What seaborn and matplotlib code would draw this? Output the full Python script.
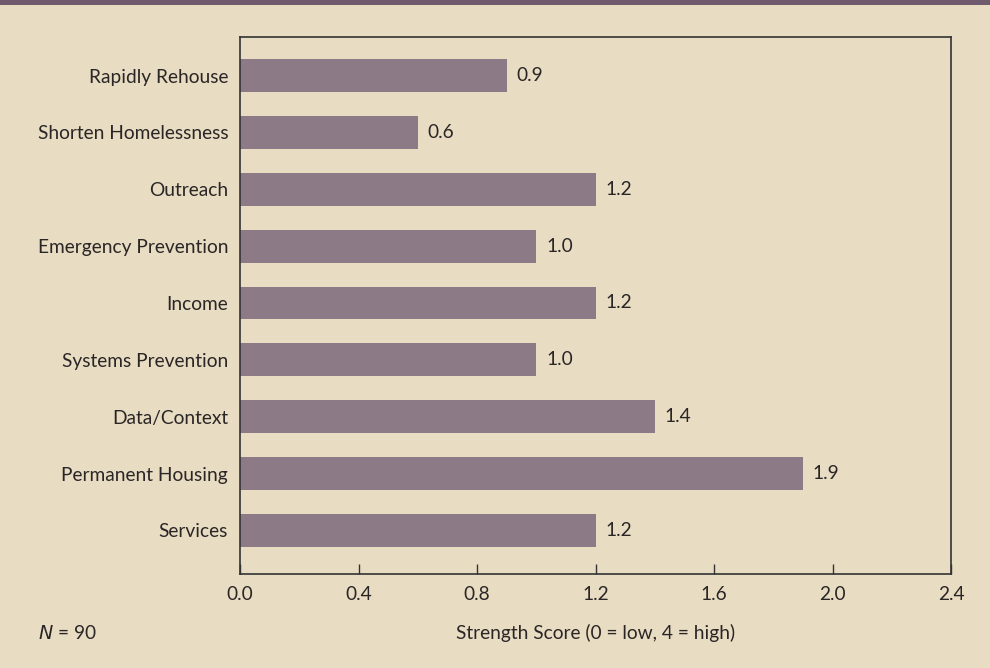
import matplotlib
matplotlib.use("Agg")
import matplotlib.pyplot as plt
import seaborn as sns
import pandas as pd
from matplotlib.patches import Rectangle

categories = ["Rapidly Rehouse", "Shorten Homelessness", "Outreach", "Emergency Prevention",
              "Income", "Systems Prevention", "Data/Context", "Permanent Housing", "Services"]
scores = [0.9, 0.6, 1.2, 1.0, 1.2, 1.0, 1.4, 1.9, 1.2]
xticks = [0.0, 0.4, 0.8, 1.2, 1.6, 2.0, 2.4]

BG = "#e8dcc2"
BAR = "#8c7b87"
TXT = "#2a2626"
FS = 13.8

sns.set_theme(style="white")
plt.rcParams["font.family"] = ["Lato", "DejaVu Sans"]

fig = plt.figure(figsize=(9.9, 6.68), dpi=100, facecolor=BG)
ax = fig.add_axes([240/990, 1-574/668, (951-240)/990, (574-37)/668])
ax.set_facecolor(BG)

df = pd.DataFrame({"category": categories, "score": scores})
sns.barplot(data=df, x="score", y="category", orient="h", color=BAR, saturation=1,
            width=0.58, ax=ax, edgecolor="none")

for c in ax.containers:
    ax.bar_label(c, fmt="%.1f", padding=7, fontsize=FS, color=TXT)

ax.set_xlim(0, 2.4)
ax.set_ylim(8.765, -0.677)
ax.set_xticks(xticks)
ax.set_xticklabels([f"{t:.1f}" for t in xticks])
ax.tick_params(axis="x", direction="in", length=7, width=1, color="#333333", pad=9,
               labelsize=FS, labelcolor=TXT, bottom=True)
ax.tick_params(axis="y", length=0, pad=8.5, labelsize=FS, labelcolor=TXT)
ax.set_xlabel("")
ax.set_ylabel("")
for s in ax.spines.values():
    s.set_visible(True)
    s.set_color("#333333")
    s.set_linewidth(1.2)

fig.text((240+951)/2/990, 1-633/668, "Strength Score (0 = low, 4 = high)", ha="center", va="center",
         fontsize=FS, color=TXT)
fig.text(38/990, 1-633/668, r"$N$ = 90", ha="left", va="center", fontsize=FS, color=TXT)

fig.add_artist(Rectangle((0, 1-5/668), 1, 5/668, transform=fig.transFigure,
                         facecolor="#6f5a6e", edgecolor="none"))

fig.savefig("out.png", dpi=100, facecolor=BG)
